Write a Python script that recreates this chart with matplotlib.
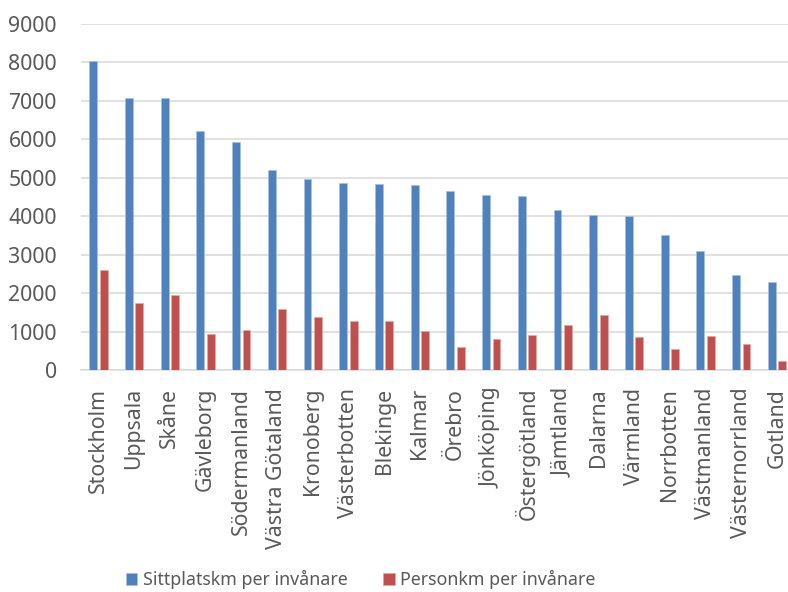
import numpy as np
import matplotlib
matplotlib.use("Agg")
import matplotlib.pyplot as plt

# data
lan = ["Stockholm", "Uppsala", "Skåne", "Gävleborg", "Södermanland",
       "Västra Götaland", "Kronoberg", "Västerbotten", "Blekinge", "Kalmar",
       "Örebro", "Jönköping", "Östergötland", "Jämtland", "Dalarna",
       "Värmland", "Norrbotten", "Västmanland", "Västernorrland", "Gotland"]
sittplatskm = [8040, 7090, 7090, 6210, 5940, 5220, 4970, 4875, 4850, 4805,
               4655, 4550, 4530, 4170, 4030, 4020, 3510, 3095, 2470, 2290]
personkm = [2600, 1765, 1950, 935, 1040, 1595, 1380, 1285, 1285, 1030,
            615, 805, 910, 1180, 1440, 870, 565, 895, 695, 235]
yticks = list(range(0, 9001, 1000))

blue = '#4F81BD'
red = '#C0504D'
txt = '#595959'
font = 'Noto Sans'
fs = 15.3
fs_leg = 12.8

fig = plt.figure(figsize=(7.88, 5.92), dpi=100)
ax = fig.add_axes([0.1022, 0.3742, 0.9065, 0.5853])

x = np.arange(len(lan))
w = 0.22
off = 0.147
ax.bar(x - off, sittplatskm, w, color=blue, edgecolor='#a9c1e0', linewidth=0.5,
       label='Sittplatskm per invånare', zorder=3)
ax.bar(x + off, personkm, w, color=red, edgecolor='#e0a9a7', linewidth=0.5,
       label='Personkm per invånare', zorder=3)

ax.set_xlim(-0.5, len(lan) - 0.5)
ax.set_ylim(0, 9000)
ax.set_yticks(yticks)
ax.set_yticklabels([str(v) for v in yticks], fontsize=fs, color=txt, family=font)
ax.set_xticks(x)
ax.set_xticklabels(lan, rotation=90, fontsize=fs, color=txt, family=font)
ax.tick_params(axis='both', length=0)
ax.tick_params(axis='y', pad=17)
ax.tick_params(axis='x', pad=12.5)
ax.grid(axis='y', color='#D9D9D9', linewidth=1.1, zorder=0)
for s in ['top', 'right', 'left']:
    ax.spines[s].set_visible(False)
ax.spines['bottom'].set_color('#D9D9D9')
ax.spines['bottom'].set_linewidth(1.1)

leg = fig.legend(loc='center', bbox_to_anchor=(0.4575, 0.021), ncol=2,
                 frameon=False, handlelength=0.65, handleheight=0.65,
                 handletextpad=0.3, columnspacing=2.0,
                 prop={'family': font, 'size': fs_leg})
for t in leg.get_texts():
    t.set_color(txt)

fig.savefig('out.png', dpi=100)
